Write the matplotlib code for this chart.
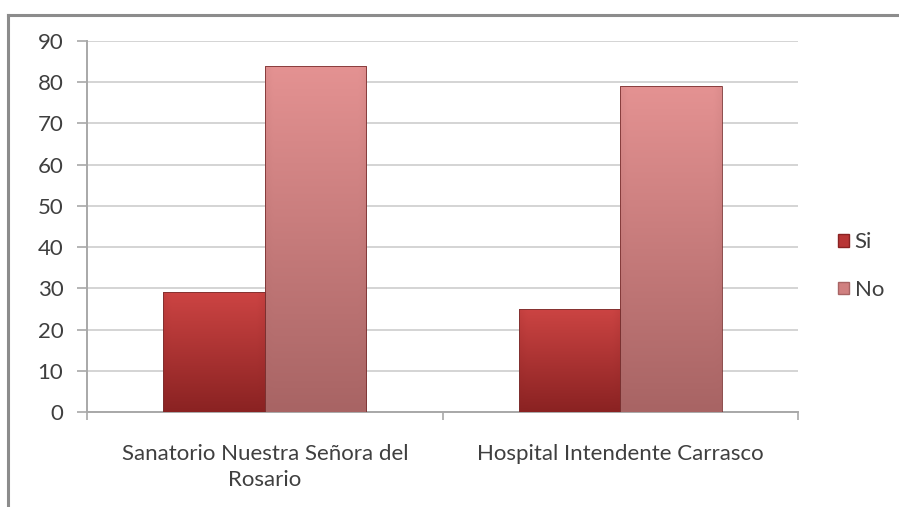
import numpy as np
import matplotlib
matplotlib.use("Agg")
import matplotlib.pyplot as plt
from matplotlib.colors import LinearSegmentedColormap
from matplotlib.lines import Line2D
from matplotlib.patches import Rectangle

categories = ["Sanatorio Nuestra Señora del\nRosario", "Hospital Intendente Carrasco"]
series_names = ["Si", "No"]
si_values = [29, 25]
no_values = [84, 79]
y_ticks = [0, 10, 20, 30, 40, 50, 60, 70, 80, 90]

plt.rcParams['font.family'] = ['Lato', 'DejaVu Sans']
FS = 16
TXT = "#3f3f3f"

W, H = 899, 507
fig = plt.figure(figsize=(W / 100, H / 100), dpi=100)
ax = fig.add_axes([87 / W, 1 - 412 / H, (798 - 87) / W, (412 - 41) / H])

x = np.arange(len(categories))
width = 0.285
off = 0.1425
bars_si = ax.bar(x - off, si_values, width, color="#B83535", zorder=3, label=series_names[0])
bars_no = ax.bar(x + off, no_values, width, color="#D98484", zorder=3, label=series_names[1])

def shade(bars, top, bottom):
    cmap = LinearSegmentedColormap.from_list("g", [bottom, top])
    for b in bars:
        x0, y0 = b.get_x(), b.get_y()
        w, h = b.get_width(), b.get_height()
        ny, nx = 200, 60
        v = np.linspace(0, 1, ny)[:, None] * np.ones((1, nx))
        hx = np.linspace(-1, 1, nx)[None, :]
        edge = 1 - 0.12 * np.clip((np.abs(hx) - 0.85) / 0.15, 0, 1)
        img = v * edge
        im = ax.imshow(img, extent=(x0, x0 + w, y0, y0 + h), origin="lower",
                       cmap=cmap, vmin=0, vmax=1, aspect="auto", zorder=3.5,
                       interpolation="bilinear")
        im.set_clip_path(b)
        b.set_facecolor("none")
        b.set_edgecolor("#7a3030")
        b.set_linewidth(0.6)
        b.set_zorder(4)

shade(bars_si, "#CC4443", "#8A2222")
shade(bars_no, "#E49292", "#A86464")

ax.set_xlim(-0.5, 1.5)
ax.set_ylim(0, 90)
ax.set_yticks(y_ticks)
ax.set_yticklabels([str(t) for t in y_ticks], fontsize=FS, color=TXT)
ax.yaxis.grid(True, color="#D4D4D4", linewidth=1.4, zorder=0)
ax.set_axisbelow(True)

ax.set_xticks([-0.5, 0.5, 1.5])
ax.set_xticklabels([])
ax.set_xticks(x, minor=True)
ax.set_xticklabels(categories, minor=True, fontsize=FS, color=TXT, linespacing=1.35)
ax.tick_params(axis="x", which="minor", length=0, pad=23)
ax.tick_params(axis="x", which="major", length=6, color="#A8A8A8", width=1.2, direction="out")
ax.tick_params(axis="y", length=7, color="#A8A8A8", width=1.2, direction="out", pad=10)

for s in ["top", "right"]:
    ax.spines[s].set_visible(False)
for s in ["left", "bottom"]:
    ax.spines[s].set_color("#A8A8A8")
    ax.spines[s].set_linewidth(1.4)

handles = [Rectangle((0, 0), 1, 1, facecolor="#B83535", edgecolor="#8A2222"),
           Rectangle((0, 0), 1, 1, facecolor="#D08080", edgecolor="#A86464")]
leg = fig.legend(handles, series_names, loc="center left",
                 bbox_to_anchor=(818 / W, 1 - 266 / H), frameon=False,
                 fontsize=FS, handlelength=0.5, handleheight=0.5,
                 handletextpad=0.25, labelspacing=1.25, labelcolor=TXT)

fig.add_artist(Line2D([8 / W, 8 / W], [0, 1 - 15 / H], transform=fig.transFigure,
                      color="#8C8C8C", linewidth=2.2))
fig.add_artist(Line2D([8 / W, 1], [1 - 15 / H, 1 - 15 / H], transform=fig.transFigure,
                      color="#8C8C8C", linewidth=2.2))

fig.savefig("out.png", dpi=100)
